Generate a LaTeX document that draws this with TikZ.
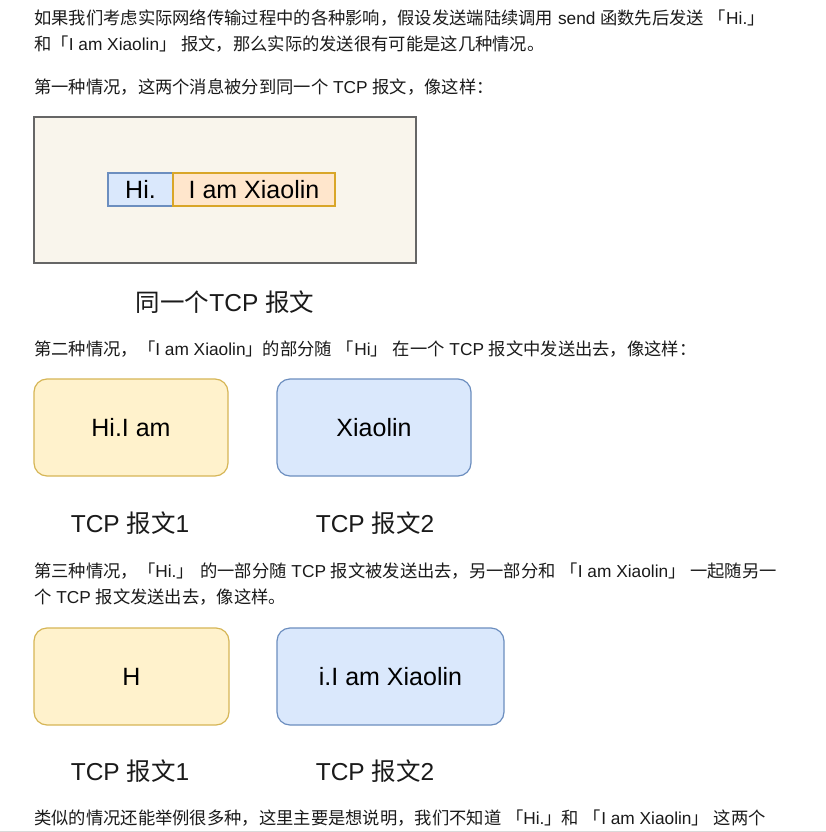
\documentclass[tikz,border=0pt]{standalone}
\usepackage{fontspec}
\setmainfont{Liberation Sans}
\newfontfamily\zh{Noto Sans CJK SC}
\definecolor{bigfill}{HTML}{F9F5EC}
\definecolor{bigline}{HTML}{666666}
\definecolor{bluefill}{HTML}{DAE8FC}
\definecolor{blueline}{HTML}{6C8EBF}
\definecolor{orangefill}{HTML}{FFE6CC}
\definecolor{orangeline}{HTML}{D9A629}
\definecolor{yellowfill}{HTML}{FFF2CC}
\definecolor{yellowline}{HTML}{D6B656}
\definecolor{txt}{HTML}{1A1A1A}
\begin{document}
\begin{tikzpicture}[x=1pt,y=-1pt,
  body/.style={anchor=west,inner sep=0pt,text=txt,font=\fontsize{17.3}{20}\selectfont},
  lbl/.style={inner sep=0pt,text=txt,font=\fontsize{24.5}{28}\selectfont},
  seg/.style={draw,line width=1.2pt,minimum height=33pt,inner sep=0pt,font=\fontsize{25}{28}\selectfont},
  pkt/.style={draw,line width=1.2pt,rounded corners=13pt,minimum height=97pt,inner sep=0pt,font=\fontsize{25}{28}\selectfont},
]
\useasboundingbox[fill=white] (0,0) rectangle (826,832);

\node[body] (t1) at (34,18) {{\zh 如果我们考虑实际网络传输过程中的各种影响，假设发送端陆续调用} send {\zh 函数先后发送} {\zh 「}Hi.{\zh 」}};
\node[body] (t2) at (34,44) {{\zh 和「}I am Xiaolin{\zh 」} {\zh 报文，那么实际的发送很有可能是这几种情况。}};
\node[body] (t3) at (34,87) {{\zh 第一种情况，这两个消息被分到同一个} TCP {\zh 报文，像这样：}};

\node[draw=bigline,fill=bigfill,line width=1.2pt,minimum width=382pt,minimum height=146pt,inner sep=0pt] (big) at (225,190) {};
\node[seg,draw=blueline,fill=bluefill,minimum width=65pt] (hi) at (140.5,189.5) {Hi.};
\node[seg,draw=orangeline,fill=orangefill,minimum width=162pt] (iam) at (254,189.5) {I am Xiaolin};
\node[lbl] (l0) at (225,302) {{\zh 同一个}TCP {\zh 报文}};

\node[body] (t4) at (34,349) {{\zh 第二种情况，「}I am Xiaolin{\zh 」的部分随} {\zh 「}Hi{\zh 」} {\zh 在一个} TCP {\zh 报文中发送出去，像这样：}};
\node[pkt,draw=yellowline,fill=yellowfill,minimum width=194pt] (a1) at (131,427.5) {Hi.I am};
\node[pkt,draw=blueline,fill=bluefill,minimum width=194pt] (a2) at (374,427.5) {Xiaolin};
\node[lbl] (la1) at (130,523) {TCP {\zh 报文}1};
\node[lbl] (la2) at (375,523) {TCP {\zh 报文}2};

\node[body] (t5) at (34,571) {{\zh 第三种情况，「}Hi.{\zh 」} {\zh 的一部分随} TCP {\zh 报文被发送出去，另一部分和} {\zh 「}I am Xiaolin{\zh 」} {\zh 一起随另一}};
\node[body] (t6) at (34,597) {{\zh 个} TCP {\zh 报文发送出去，像这样。}};
\node[pkt,draw=yellowline,fill=yellowfill,minimum width=195pt] (b1) at (131.5,676.5) {H};
\node[pkt,draw=blueline,fill=bluefill,minimum width=227pt] (b2) at (390.5,676.5) {i.I am Xiaolin};
\node[lbl] (lb1) at (130,771) {TCP {\zh 报文}1};
\node[lbl] (lb2) at (375,771) {TCP {\zh 报文}2};

\node[body] (t7) at (34,818) {{\zh 类似的情况还能举例很多种，这里主要是想说明，我们不知道} {\zh 「}Hi.{\zh 」和} {\zh 「}I am Xiaolin{\zh 」} {\zh 这两个}};
\draw[draw=black!15,line width=1pt] (0,831) -- (826,831);
\end{tikzpicture}
\end{document}
